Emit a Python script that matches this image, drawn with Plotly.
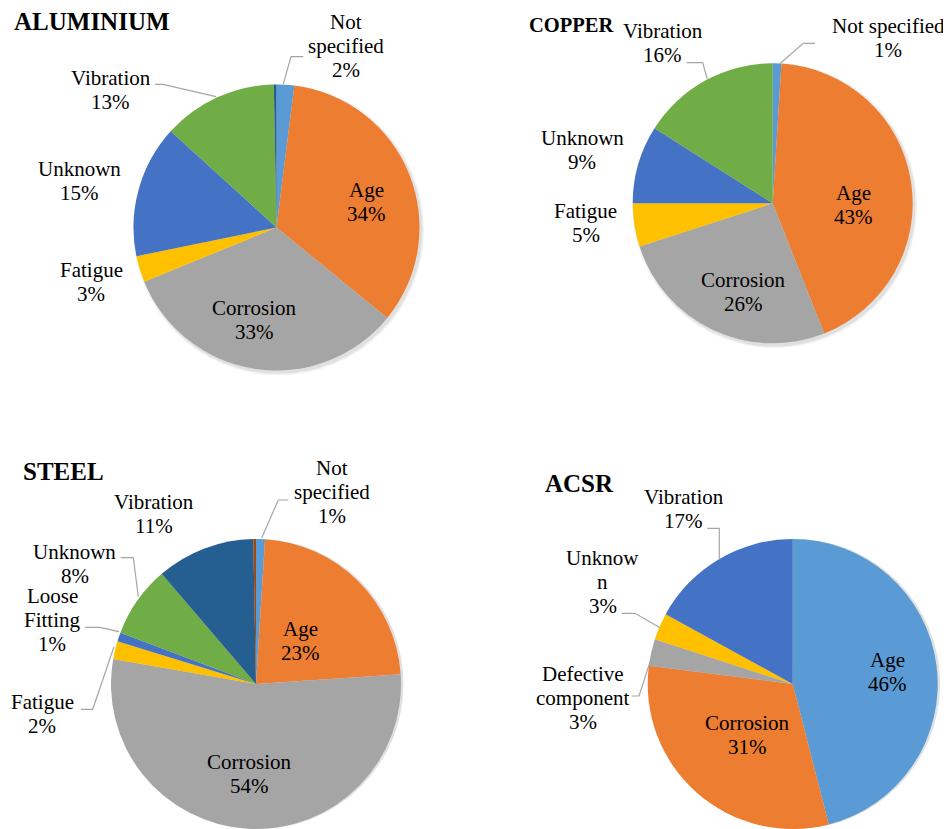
import plotly.graph_objects as go

W, H = 951, 829
OFF = 8  # page body margin in the browser
FW, FH = W - OFF, H - OFF

# ---------------- data ----------------
alu_names = ["Not specified", "Age", "Corrosion", "Fatigue", "Unknown", "Vibration", "Other"]
alu_labels = ["Not<br>specified", "Age", "Corrosion", "Fatigue", "Unknown", "Vibration", ""]
alu_values = [2, 34, 33, 3, 15, 13, 0.3]

cu_names = ["Not specified", "Age", "Corrosion", "Fatigue", "Unknown", "Vibration"]
cu_labels = ["Not specified", "Age", "Corrosion", "Fatigue", "Unknown", "Vibration"]
cu_values = [1, 43, 26, 5, 9, 16]

st_names = ["Not specified", "Age", "Corrosion", "Fatigue", "Loose Fitting", "Unknown", "Vibration", "Other"]
st_labels = ["Not<br>specified", "Age", "Corrosion", "Fatigue", "Loose<br>Fitting", "Unknown", "Vibration", ""]
st_values = [1, 23, 54, 2, 1, 8, 11, 0.3]

acsr_names = ["Age", "Corrosion", "Defective component", "Unknown", "Vibration"]
acsr_labels = ["Age", "Corrosion", "Defective<br>component", "Unknow<br>n", "Vibration"]
acsr_values = [46, 31, 3, 3, 17]

titles = ["ALUMINIUM", "COPPER", "STEEL", "ACSR"]

# ---------------- styles ----------------
C_BLUE, C_ORANGE, C_GRAY, C_YELLOW = "#5B9BD5", "#ED7D31", "#A5A5A5", "#FFC000"
C_DBLUE, C_GREEN, C_NAVY, C_BROWN = "#4472C4", "#70AD47", "#255E91", "#9E480E"

alu_colors = [C_BLUE, C_ORANGE, C_GRAY, C_YELLOW, C_DBLUE, C_GREEN, C_NAVY]
cu_colors = [C_BLUE, C_ORANGE, C_GRAY, C_YELLOW, C_DBLUE, C_GREEN]
st_colors = [C_BLUE, C_ORANGE, C_GRAY, C_YELLOW, C_DBLUE, C_GREEN, C_NAVY, C_BROWN]
acsr_colors = [C_BLUE, C_ORANGE, C_GRAY, C_YELLOW, C_DBLUE]

FONT = "Liberation Serif"
LABEL_SIZE = 21
LINE_GAP = 24.2


def px(x, y):
    return (x - OFF) / FW, 1 - (y - OFF) / FH


def domain(cx, cy, r):
    x0, y1 = px(cx - r, cy - r)
    x1, y0 = px(cx + r, cy + r)
    return dict(x=[max(0, x0), min(1, x1)], y=[max(0, y0), min(1, y1)])


pies = [
    (alu_names, alu_values, alu_colors, (276.5, 227.5, 143), (278.5, 229.8, 144)),
    (cu_names, cu_values, cu_colors, (772.7, 203.3, 140), (774.7, 205.6, 141)),
    (st_names, st_values, st_colors, (256, 684, 145), (258.5, 684, 145)),
    (acsr_names, acsr_values, acsr_colors, (792.7, 684, 145), (795.2, 684, 145)),
]

fig = go.Figure()
for names, vals, cols, (cx, cy, r), (sx, sy, sr) in pies:
    # soft drop shadow behind each pie
    for extra, alpha in [(1.5, 0.05), (0, 0.07)]:
        fig.add_trace(go.Pie(
            values=[1], labels=[""], sort=False, marker=dict(colors=[f"rgba(0,0,0,{alpha})"], line=dict(width=0)),
            textinfo="none", hoverinfo="skip", showlegend=False,
            domain=domain(sx, sy, min(sr + extra, 829 - sy) if sy > 600 else sr + extra),
        ))
    fig.add_trace(go.Pie(
        labels=names, values=vals, sort=False, direction="clockwise", rotation=0,
        marker=dict(colors=cols, line=dict(width=0)),
        textinfo="none", hoverinfo="label+percent", showlegend=False,
        domain=domain(cx, cy, r),
    ))

# label placement: (x centre, baseline of first line) in pixels, per slice index
alu_pos = {0: (346, 28.7), 1: (366, 196.7), 2: (254.7, 315), 3: (91, 276.7), 4: (79.5, 175.7), 5: (110.8, 85)}
cu_pos = {0: (888, 33.3), 1: (853.3, 200), 2: (743.8, 287.3), 3: (585.8, 218.3), 4: (582, 145), 5: (662.7, 38.3)}
st_pos = {0: (332, 475), 1: (300.3, 636), 2: (250, 769.3), 3: (42, 709.3), 4: (52, 602.7), 5: (74.5, 559.3), 6: (153.7, 509.3)}
acsr_pos = {0: (887.8, 666.7), 1: (747, 730), 2: (582.5, 680.7), 3: (602.8, 565), 4: (683.8, 504)}

BASE_SHIFT = 0.335 * LABEL_SIZE  # baseline -> vertical middle of a single text line

annotations = []
for labels, vals, pos in [(alu_labels, alu_values, alu_pos), (cu_labels, cu_values, cu_pos),
                          (st_labels, st_values, st_pos), (acsr_labels, acsr_values, acsr_pos)]:
    for i, (x, y) in pos.items():
        lines = labels[i].split("<br>") + [f"{vals[i]:g}%"]
        for k, line in enumerate(lines):
            xx, yy = px(x, y + k * LINE_GAP - BASE_SHIFT)
            annotations.append(dict(
                x=xx, y=yy, xref="paper", yref="paper", xanchor="center", yanchor="middle",
                text=line, showarrow=False,
                font=dict(family=FONT, size=LABEL_SIZE, color="#000000"),
            ))

# titles: (left x, baseline y, size)
title_pos = [(12.7, 30, 25), (527.7, 31.7, 20.5), (21.7, 480, 25), (544, 491.7, 25)]
for t, (x, y, s) in zip(titles, title_pos):
    xx, yy = px(x - 1, y - 0.335 * s)
    annotations.append(dict(
        x=xx, y=yy, xref="paper", yref="paper", xanchor="left", yanchor="middle",
        text=f"<b>{t}</b>", showarrow=False,
        font=dict(family=FONT, size=s, color="#000000"),
    ))

# leader lines (pixel polylines)
leaders = [
    [(303.3, 56.7), (291, 56.7), (283.3, 84)],
    [(155, 84.3), (163, 84.3), (216, 96.7)],
    [(686.7, 62.7), (702.7, 62.7), (707.3, 79.3)],
    [(815, 43.3), (803.3, 43.3), (780, 63.5)],
    [(288.3, 500), (278.3, 500), (261.7, 538)],
    [(120.7, 557.7), (133.3, 557.7), (138.3, 596.7)],
    [(85, 627.3), (100, 627.3), (119, 631.7)],
    [(81, 709.3), (92.7, 709.3), (114, 646.7)],
    [(707.3, 528.3), (719.3, 528.3), (719.3, 560)],
    [(621.7, 613.3), (635, 613.3), (660, 627.7)],
    [(631.7, 696), (639, 696), (651.7, 656.7)],
]
shapes = []
for pts in leaders:
    p = [px(x, y) for x, y in pts]
    path = "M " + " L ".join(f"{a},{b}" for a, b in p)
    shapes.append(dict(type="path", xref="paper", yref="paper", path=path,
                       line=dict(color="#A6A6A6", width=1.2)))

fig.update_layout(
    width=FW, height=FH, margin=dict(l=0, r=0, t=0, b=0),
    paper_bgcolor="white", plot_bgcolor="white",
    annotations=annotations, shapes=shapes,
)

fig.write_html("out.html")
